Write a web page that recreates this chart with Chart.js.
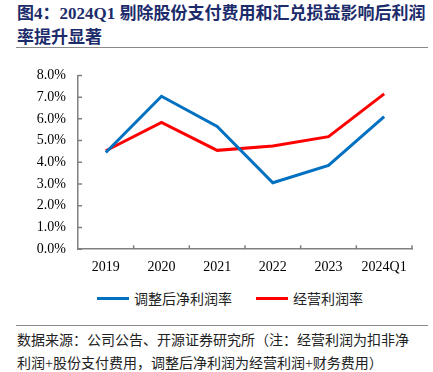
<!DOCTYPE html>
<html>
<head>
<meta charset="utf-8">
<script src="https://cdn.jsdelivr.net/npm/chart.js@4.4.1/dist/chart.umd.min.js"></script>
<style>
  body { margin: 0; width: 433px; height: 372px; background: #fff; position: relative; overflow: hidden; }
  .title { position: absolute; left: 17px; top: 2px; font: bold 17px "Liberation Serif", "Noto Sans CJK SC"; line-height: 24px; color: #1c2c6b; white-space: nowrap; }
  .rule { position: absolute; left: 16px; width: 412px; height: 0; border-top: 1.5px solid #8a8a8a; }
  .foot { position: absolute; left: 17px; top: 329px; font: 14px "Liberation Serif", "Noto Sans CJK SC"; line-height: 23px; color: #222; white-space: nowrap; }
  #wrap { position: absolute; left: 0; top: 55px; width: 433px; height: 231px; }
  #legend { position: absolute; left: 97px; top: 288px; height: 20px; display: flex; align-items: center; font: 14px "Noto Sans CJK SC"; color: #222; white-space: nowrap; }
  #legend .item { display: flex; align-items: center; }
  #legend .swatch { width: 32px; height: 3px; margin-right: 5px; }
</style>
</head>
<body>
<div class="title">图4：2024Q1 剔除股份支付费用和汇兑损益影响后利润<br>率提升显著</div>
<div class="rule" style="top:47px"></div>
<div id="wrap"><canvas id="chart"></canvas></div>
<div id="legend"></div>
<div class="rule" style="top:325px"></div>
<div class="foot">数据来源：公司公告、开源证券研究所（注：经营利润为扣非净<br>利润+股份支付费用，调整后净利润为经营利润+财务费用）</div>
<script>
// 数据（%）
const years = ["2019", "2020", "2021", "2022", "2023", "2024Q1"];
const adjNetMargin = [4.45, 7.04, 5.65, 3.06, 3.86, 6.10];
const opMargin = [4.53, 5.84, 4.55, 4.75, 5.18, 7.15];
const yTicks = [0, 1, 2, 3, 4, 5, 6, 7, 8];

const axisColor = "#808080";

// 刻度线画在坐标轴内侧
const innerTicks = {
  id: "innerTicks",
  afterDraw(chart) {
    const { ctx, scales: { x, y } } = chart;
    ctx.save();
    ctx.strokeStyle = axisColor;
    ctx.lineWidth = 1.5;
    ctx.beginPath();
    yTicks.forEach(v => {
      const py = y.getPixelForValue(v);
      ctx.moveTo(x.left, py);
      ctx.lineTo(x.left + 4, py);
    });
    const step = (x.right - x.left) / years.length;
    for (let i = 1; i <= years.length; i++) {
      const px = x.left + i * step;
      ctx.moveTo(px, y.bottom);
      ctx.lineTo(px, y.bottom - 4);
    }
    ctx.stroke();
    ctx.restore();
  }
};

// 图例放在 HTML 里，位置好控制
const htmlLegend = {
  id: "htmlLegend",
  afterUpdate(chart) {
    const box = document.getElementById("legend");
    box.innerHTML = "";
    chart.data.datasets.forEach((ds, i) => {
      const item = document.createElement("div");
      item.className = "item";
      if (i > 0) item.style.marginLeft = "24px";
      const sw = document.createElement("span");
      sw.className = "swatch";
      sw.style.background = ds.borderColor;
      const txt = document.createElement("span");
      txt.textContent = ds.label;
      item.appendChild(sw);
      item.appendChild(txt);
      box.appendChild(item);
    });
  }
};

new Chart(document.getElementById("chart"), {
  type: "line",
  data: {
    labels: years,
    datasets: [
      { label: "调整后净利润率", data: adjNetMargin, borderColor: "#0070C0", backgroundColor: "#0070C0", borderWidth: 3, pointRadius: 0, tension: 0 },
      { label: "经营利润率", data: opMargin, borderColor: "#FF0000", backgroundColor: "#FF0000", borderWidth: 3, pointRadius: 0, tension: 0 }
    ]
  },
  options: {
    responsive: true,
    maintainAspectRatio: false,
    animation: false,
    layout: { padding: { left: 0, right: 21, top: 11.6, bottom: 0 } },
    scales: {
      x: {
        offset: true,
        grid: { display: true, drawOnChartArea: false, drawTicks: false, offset: true },
        border: { color: axisColor, width: 1.5 },
        ticks: { color: "#000", font: { family: "Liberation Serif", size: 14 }, padding: 10, maxRotation: 0 }
      },
      y: {
        min: 0,
        max: 8,
        grid: { display: true, drawOnChartArea: false, drawTicks: false },
        border: { color: axisColor, width: 1.5 },
        ticks: {
          stepSize: 1,
          autoSkip: false,
          color: "#000",
          font: { family: "Liberation Serif", size: 14 },
          padding: 12,
          callback: v => v.toFixed(1) + "%"
        },
        afterFit(scale) { scale.width = 78; }
      }
    },
    plugins: {
      legend: { display: false },
      tooltip: { enabled: false }
    }
  },
  plugins: [innerTicks, htmlLegend]
});
</script>
</body>
</html>
